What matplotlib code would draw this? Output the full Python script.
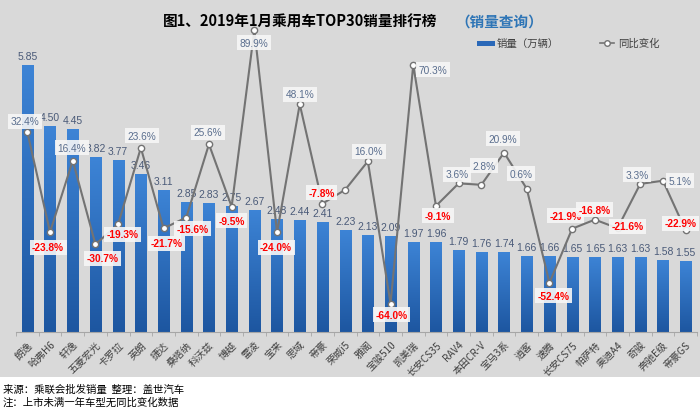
import numpy as np
import matplotlib
matplotlib.use("Agg")
import matplotlib.pyplot as plt
from matplotlib.patches import Rectangle
from matplotlib.lines import Line2D
from matplotlib.colors import LinearSegmentedColormap

plt.rcParams['font.family'] = ['Noto Sans CJK SC', 'DejaVu Sans']

models = ['朗逸', '哈弗H6', '轩逸', '五菱宏光', '卡罗拉', '英朗', '捷达', '桑塔纳', '科沃兹', '博越',
          '雷凌', '宝来', '思域', '帝豪', '荣威i5', '雅阁', '宝骏510', '凯美瑞', '长安CS35', 'RAV4',
          '本田CR-V', '宝马3系', '逍客', '速腾', '长安CS75', '帕萨特', '奥迪A4', '奇骏', '奔驰E级', '帝豪GS']
sales = [5.85, 4.50, 4.45, 3.82, 3.77, 3.46, 3.11, 2.85, 2.83, 2.75,
         2.67, 2.48, 2.44, 2.41, 2.23, 2.13, 2.09, 1.97, 1.96, 1.79,
         1.76, 1.74, 1.66, 1.66, 1.65, 1.65, 1.63, 1.63, 1.58, 1.55]
yoy = [32.4, -23.8, 16.4, -30.7, -19.3, 23.6, -21.7, -15.6, 25.6, -9.5,
       89.9, -24.0, 48.1, -7.8, None, 16.0, -64.0, 70.3, -9.1, 3.6,
       2.8, 20.9, 0.6, -52.4, -21.9, -16.8, -21.6, 3.3, 5.1, -22.9]

# label placement (pixel offsets from point), style only
lab_off = [(-2, 11), (-2, -15), (-1, 13), (7, -14), (4, -10), (1, 12), (3, -15), (6, -11), (-1, 12), (0, -14),
           (0, -13), (-1, -15), (0, 10), (-1, 11), (0, 0), (1, 10), (1, -11), (20, -5), (2, -10), (-2, 9),
           (3, 19), (-1, 14), (-6, 15), (4, -13), (-7, 13), (0, 10), (10, 2), (-3, 9), (17, 0), (-5, 7)]

NUMFONT = ['Liberation Sans', 'DejaVu Sans']
BG = '#d9d9d9'
fig = plt.figure(figsize=(7.0, 4.14), dpi=100)
fig.patch.set_facecolor('white')
fig.patches.append(Rectangle((0, 1 - 378 / 414), 1, 378 / 414, transform=fig.transFigure,
                             facecolor=BG, edgecolor='none', zorder=-10))

ax = fig.add_axes([16 / 700, 81 / 414, 681 / 700, 320 / 414])
ax.patch.set_alpha(0)
x = np.arange(len(models))
bars = ax.bar(x, sales, width=0.49, color='#2a68b8', zorder=2)

# vertical gradient on bars
grad = np.linspace(0, 1, 256).reshape(-1, 1)
cmap = LinearSegmentedColormap.from_list('g', ['#1d56a0', '#3d84d6'])
for b in bars:
    im = ax.imshow(grad, cmap=cmap, origin='lower', aspect='auto',
                   extent=[b.get_x(), b.get_x() + b.get_width(), 0, b.get_height()], zorder=2.1)
    im.set_clip_path(b)
ax.set_xlim(-0.5, len(models) - 0.5)
ax.set_ylim(0, 7)

for xi, v in zip(x, sales):
    ax.annotate(f'{v:.2f}', (xi, v), xytext=(0, 4), textcoords='offset pixels',
                ha='center', va='bottom', fontsize=7.5, color='#4a5a78',
                family=NUMFONT, zorder=5)

for s in ['top', 'right', 'left']:
    ax.spines[s].set_visible(False)
ax.spines['bottom'].set_color('#a6a6a6')
ax.set_yticks([])
ax.set_xticks(x)
ax.set_xticklabels(models, rotation=45, ha='right', rotation_mode='anchor',
                   fontsize=7.2, color='#404040')
ax.tick_params(axis='x', which='major', length=0, pad=5)
ax.set_xticks(np.arange(-0.5, len(models), 1), minor=True)
ax.tick_params(axis='x', which='minor', length=3, color='#a6a6a6')

ax2 = ax.twinx()
ax2.set_ylim(-80, 100)
ax2.set_axis_off()
yv = [0.0 if v is None else v for v in yoy]
ax2.plot(x, yv, color='#737373', lw=1.5, marker='o', ms=4.5, mfc='white', mec='#737373',
         mew=1.0, zorder=4)
for xi, v, (dx, dy) in zip(x, yoy, lab_off):
    if v is None:
        continue
    if v < 0:
        kw = dict(color='#ff0000', fontweight='bold')
    else:
        kw = dict(color='#5a6e8e')
    ax2.annotate(f'{v:.1f}%', (xi, v), xytext=(dx, dy), textcoords='offset pixels',
                 ha='center', va='center', fontsize=7.3, family=NUMFONT,
                 bbox=dict(boxstyle='square,pad=0.25', fc='#f7f7f7', ec='none', alpha=0.9),
                 zorder=6, **kw)

# title
fig.text(163 / 700, 1 - 22 / 414, '图1、2019年1月乘用车TOP30销量排行榜', fontsize=10.5,
         fontweight='bold', color='#000000', ha='left', va='center')
fig.text(455 / 700, 1 - 22 / 414, '（销量查询）', fontsize=10.5, fontweight='bold',
         color='#2e75b6', ha='left', va='center')

# legend
fig.patches.append(Rectangle((477 / 700, 1 - 46.5 / 414), 18 / 700, 5 / 414, transform=fig.transFigure,
                             facecolor='#2a68b8', edgecolor='none'))
fig.text(497 / 700, 1 - 44 / 414, '销量（万辆）', fontsize=7.5, color='#404040', ha='left', va='center')
fig.lines.append(Line2D([600 / 700, 614 / 700], [1 - 44 / 414, 1 - 44 / 414], transform=fig.transFigure,
                        color='#737373', lw=1.2))
fig.lines.append(Line2D([607 / 700], [1 - 44 / 414], transform=fig.transFigure, color='#737373',
                        marker='o', ms=4, mfc='white', mec='#737373', lw=0))
fig.text(618 / 700, 1 - 44 / 414, '同比变化', fontsize=7.5, color='#404040', ha='left', va='center')

# footnotes
fig.text(3 / 700, 1 - 390 / 414, '来源：乘联会批发销量  整理：盖世汽车', fontsize=7.5, color='#000000',
         ha='left', va='center')
fig.text(3 / 700, 1 - 403 / 414, '注：上市未满一年车型无同比变化数据', fontsize=7.5, color='#000000',
         ha='left', va='center')

fig.savefig('out.png', dpi=100, facecolor=fig.get_facecolor())
